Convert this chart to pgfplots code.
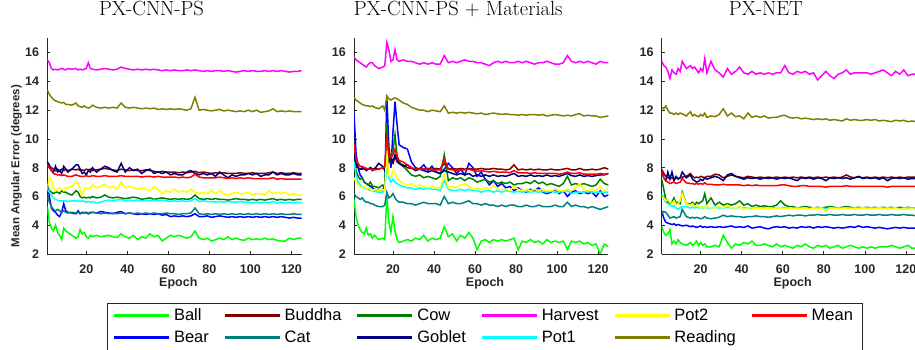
\documentclass[border=0pt]{standalone}
\usepackage{fontspec}
\setsansfont{Liberation Sans}
\usepackage{pgfplots}
\usepackage{pgfplotstable}
\pgfplotsset{compat=1.18}

\definecolor{gray15}{RGB}{38,38,38}
\definecolor{cBall}{RGB}{0,255,0}
\definecolor{cBear}{RGB}{0,0,255}
\definecolor{cBuddha}{RGB}{128,0,0}
\definecolor{cCat}{RGB}{0,128,128}
\definecolor{cCow}{RGB}{0,128,0}
\definecolor{cGoblet}{RGB}{0,0,128}
\definecolor{cHarvest}{RGB}{255,0,255}
\definecolor{cPotone}{RGB}{0,255,255}
\definecolor{cPottwo}{RGB}{255,255,0}
\definecolor{cReading}{RGB}{128,128,0}
\definecolor{cMean}{RGB}{255,0,0}

% mean angular error (degrees) per epoch, PX-CNN-PS
\pgfplotstableread{
ep  ball bear buddha cat cow goblet harvest pot1 pot2 reading mean
1   5.3 7.1 8.3 6.0 6.6 8.4 15.5 6.5 6.5 13.4 8.2
2   4.2 6.0 8.1 5.6 6.4 8.2 15.3 6.3 7.3 13.1 8.0
3   3.8 5.2 8.0 5.3 6.3 7.8 14.9 6.1 7.1 12.9 7.8
4   3.6 5.0 7.9 5.1 6.2 7.7 14.8 5.9 6.6 12.75 7.6
5   4.0 4.9 7.8 5.0 6.3 8.1 14.85 5.8 6.4 12.65 7.55
6   3.5 4.7 7.9 5.1 6.3 7.7 14.8 5.75 6.5 12.6 7.5
7   3.3 4.6 7.8 5.0 6.2 7.8 14.85 5.7 6.6 12.55 7.5
8   3.0 4.9 7.9 4.9 6.4 7.6 14.9 5.7 6.5 12.5 7.45
9   3.8 5.5 7.8 5.0 6.3 8.1 14.85 5.7 6.4 12.55 7.5
10  3.6 5.0 7.9 4.9 6.3 7.9 14.8 5.7 6.6 12.4 7.45
11  3.5 4.9 7.8 4.85 6.2 7.7 14.9 5.65 6.6 12.4 7.4
13  3.3 4.85 7.9 4.9 6.1 7.9 14.85 5.7 6.7 12.35 7.4
15  3.1 4.8 7.85 4.85 6.4 8.2 14.9 5.7 7.0 12.5 7.5
16  3.2 5.0 7.9 4.9 6.3 8.2 14.8 5.7 6.9 12.3 7.45
17  3.7 4.8 7.8 4.8 6.0 7.9 14.85 5.65 6.5 12.25 7.4
18  3.4 4.9 7.85 4.85 5.9 7.6 14.8 5.7 6.1 12.2 7.4
19  3.5 4.85 7.8 4.9 5.95 7.7 14.85 5.65 6.5 12.3 7.4
20  3.2 4.9 7.9 4.85 5.9 7.5 14.9 5.6 6.6 12.2 7.45
21  3.1 4.8 7.85 4.8 5.95 7.8 15.3 5.65 6.5 12.15 7.4
22  3.3 4.9 7.9 4.85 5.9 7.7 14.9 5.6 6.6 12.2 7.4
23  3.2 4.9 7.8 4.9 6.0 8.0 14.85 5.65 6.8 12.35 7.45
25  3.3 4.85 7.85 4.85 5.9 7.7 14.8 5.55 6.6 12.2 7.4
27  3.2 4.95 7.9 4.8 5.95 7.9 14.85 5.6 6.7 12.15 7.4
29  3.25 4.9 7.95 4.85 6.1 8.1 14.9 5.7 6.85 12.2 7.45
31  3.3 4.85 7.9 4.8 5.95 8.0 14.85 5.75 6.6 12.15 7.4
33  3.2 4.8 7.85 4.85 5.9 7.8 14.8 5.7 6.7 12.2 7.4
35  3.15 4.9 7.8 4.8 5.95 7.7 14.85 5.75 6.5 12.15 7.4
37  3.4 4.95 7.9 4.85 5.9 8.3 15.0 5.8 7.0 12.5 7.45
39  3.2 4.8 7.85 4.8 5.85 7.7 14.9 5.7 6.6 12.2 7.4
41  3.1 4.85 7.8 4.85 5.9 8.0 14.85 5.75 6.7 12.15 7.4
43  3.3 4.8 7.85 4.8 5.95 7.8 14.8 5.7 6.6 12.2 7.4
45  3.0 4.75 7.8 4.85 5.9 7.9 14.85 5.75 6.5 12.15 7.4
47  3.2 4.8 7.8 4.8 5.8 7.6 14.8 5.7 6.6 12.1 7.35
49  3.1 4.75 7.85 4.85 5.85 7.8 14.85 5.75 6.5 12.15 7.4
51  3.4 4.8 7.8 4.8 5.9 7.9 14.8 5.7 6.4 12.1 7.4
53  3.2 4.75 7.75 4.85 5.8 7.6 14.85 5.75 6.7 12.15 7.35
55  3.3 4.8 7.7 4.8 5.85 7.7 14.8 5.7 6.5 12.05 7.4
57  2.9 4.7 7.75 4.8 5.9 7.6 14.75 5.75 6.2 12.1 7.35
59  3.1 4.75 7.7 4.85 5.85 7.7 14.8 5.7 6.4 12.05 7.35
61  3.3 4.6 7.7 4.8 5.8 7.5 14.75 5.65 6.3 12.1 7.35
63  3.2 4.65 7.7 4.8 5.85 7.6 14.8 5.7 6.5 12.05 7.35
65  3.3 4.6 7.65 4.75 5.8 7.5 14.75 5.65 6.3 12.1 7.3
67  3.2 4.65 7.7 4.8 5.85 7.5 14.75 5.7 6.4 12.05 7.35
69  3.1 4.6 7.65 4.8 5.8 7.7 14.8 5.65 6.3 12.0 7.3
71  3.2 4.65 7.7 4.85 5.85 7.8 14.75 5.7 6.5 12.1 7.35
73  3.6 4.8 7.75 5.2 6.1 7.6 14.8 5.85 6.3 12.9 7.55
75  3.1 4.6 7.65 4.8 5.85 7.5 14.75 5.65 6.2 12.0 7.35
77  3.0 4.6 7.7 4.75 5.8 7.6 14.7 5.7 6.3 12.05 7.3
79  3.1 4.65 7.65 4.8 5.85 7.5 14.75 5.65 6.2 12.0 7.3
81  2.9 4.55 7.6 4.75 5.8 7.6 14.7 5.65 6.4 11.95 7.3
83  3.0 4.6 7.65 4.8 5.85 7.4 14.75 5.6 6.2 12.0 7.3
85  3.1 4.65 7.6 4.75 5.8 7.7 14.75 5.65 6.4 12.05 7.35
87  3.0 4.6 7.65 4.8 5.8 7.5 14.7 5.6 6.2 11.95 7.3
89  3.2 4.55 7.6 4.75 5.75 7.3 14.75 5.65 6.1 12.0 7.25
91  3.0 4.6 7.6 4.8 5.8 7.5 14.7 5.6 6.2 11.95 7.3
93  3.1 4.55 7.6 4.75 5.85 7.4 14.65 5.6 6.3 11.9 7.25
95  3.0 4.6 7.65 4.8 5.8 7.5 14.7 5.65 6.2 11.95 7.3
97  2.95 4.55 7.6 4.75 5.8 7.5 14.75 5.6 6.2 11.9 7.25
99  3.1 4.6 7.6 4.8 5.75 7.6 14.7 5.6 6.3 12.0 7.3
101 3.0 4.55 7.65 4.75 5.8 7.5 14.75 5.55 6.1 11.9 7.25
103 3.05 4.6 7.6 4.8 5.75 7.6 14.7 5.6 6.2 12.0 7.25
105 3.0 4.55 7.6 4.75 5.8 7.4 14.7 5.55 6.2 11.85 7.25
107 3.1 4.6 7.6 4.8 5.75 7.5 14.75 5.6 6.1 11.9 7.25
109 3.0 4.55 7.65 4.75 5.8 7.5 14.7 5.55 6.4 11.95 7.25
111 3.05 4.6 7.7 4.8 5.85 7.7 14.75 5.65 6.2 12.1 7.3
113 2.95 4.55 7.6 4.75 5.75 7.5 14.7 5.55 6.3 11.9 7.2
115 2.9 4.6 7.65 4.8 5.8 7.6 14.75 5.6 6.2 11.95 7.25
117 2.9 4.55 7.6 4.75 5.75 7.5 14.7 5.55 6.3 11.9 7.2
119 3.1 4.5 7.6 4.75 5.8 7.5 14.65 5.6 6.1 11.95 7.2
121 3.0 4.55 7.65 4.8 5.75 7.6 14.7 5.55 6.2 11.9 7.2
123 3.1 4.5 7.6 4.75 5.8 7.5 14.7 5.6 6.1 11.9 7.2
125 3.1 4.5 7.6 4.75 5.8 7.5 14.75 5.55 6.1 11.9 7.2
}\tblA

% PX-CNN-PS + Materials
\pgfplotstableread{
ep  ball bear buddha cat cow goblet harvest pot1 pot2 reading mean
1   5.8 11.8 8.6 6.2 8.5 8.9 15.7 8.4 7.3 12.9 9.6
2   4.6 9.0 8.2 6.0 7.8 8.3 15.5 7.5 7.0 12.7 8.6
3   4.0 8.0 8.0 5.9 7.4 8.0 15.4 7.0 6.8 12.6 8.3
4   3.7 7.5 7.9 5.8 7.2 7.9 15.3 6.8 6.7 12.5 8.1
5   3.5 7.3 8.0 5.9 7.3 7.9 15.2 6.7 6.6 12.4 8.1
6   3.4 7.0 7.9 5.7 7.0 8.0 15.1 6.6 6.7 12.35 8.0
7   3.8 6.9 7.95 5.6 6.9 7.8 15.0 6.5 6.5 12.3 7.95
8   3.3 6.8 7.9 5.6 6.8 7.9 15.2 6.5 6.6 12.3 7.9
9   3.4 6.7 8.0 5.5 7.0 8.0 15.3 6.4 6.5 12.25 7.9
10  3.1 6.6 7.9 5.5 6.7 7.8 15.3 6.4 6.4 12.3 7.85
11  3.3 6.5 7.95 5.4 6.7 7.9 15.1 6.35 6.5 12.2 7.85
13  3.0 6.4 7.9 5.3 6.6 8.3 14.9 6.3 6.4 12.1 7.9
15  3.1 6.5 8.0 5.3 6.8 8.1 15.0 6.3 6.5 12.3 8.0
16  3.0 6.7 8.0 5.4 6.6 7.8 15.1 6.5 6.4 12.0 8.1
17  6.1 12.9 9.0 6.3 11.1 8.1 16.7 8.2 9.2 13.0 10.3
18  4.2 9.5 8.4 5.9 8.4 8.5 16.2 7.3 7.5 12.8 8.8
19  3.5 8.0 8.5 6.0 8.9 8.7 15.4 7.0 7.3 12.7 8.7
20  4.6 10.5 8.3 6.2 9.2 8.4 15.5 7.2 7.8 12.8 8.9
21  3.6 12.6 8.8 5.9 10.3 8.9 16.2 7.0 7.6 12.85 9.3
22  3.0 11.0 8.4 5.7 8.8 8.5 15.5 6.9 7.3 12.8 8.8
23  2.8 9.6 8.3 5.6 8.4 8.3 15.4 6.8 7.1 12.7 8.5
25  2.9 9.4 8.2 5.6 8.1 8.1 15.5 6.7 6.9 12.5 8.4
27  3.0 9.3 8.0 5.5 7.8 8.2 15.4 6.6 6.8 12.4 8.2
29  2.9 8.4 7.95 5.5 7.5 8.0 15.4 6.6 6.9 12.2 8.0
31  3.1 8.0 7.9 5.4 7.4 7.8 15.3 6.5 6.7 12.1 7.9
33  3.0 7.9 7.95 5.5 7.5 7.9 15.2 6.6 6.8 12.0 7.9
35  3.3 8.2 7.9 5.6 7.3 7.8 15.3 6.5 6.7 12.0 7.9
37  2.9 7.8 7.95 5.5 7.4 7.7 15.2 6.6 6.6 11.9 7.9
39  3.1 8.1 7.9 5.5 7.3 7.8 15.3 6.5 6.7 12.0 7.85
41  3.0 7.7 7.95 5.5 7.2 7.7 15.2 6.5 6.6 11.95 7.85
43  3.1 7.6 7.9 5.4 7.4 7.6 15.2 6.4 6.6 11.9 7.85
45  3.9 7.9 8.3 6.0 8.9 7.8 15.8 7.1 7.5 12.3 8.6
47  3.2 8.3 7.9 5.5 7.1 7.7 15.3 6.5 6.6 11.8 7.9
49  3.4 8.0 7.95 5.6 7.3 7.6 15.4 6.4 6.7 11.85 7.85
51  2.9 7.6 7.9 5.5 7.2 7.5 15.3 6.4 6.6 11.8 7.8
53  3.3 7.9 7.95 5.5 7.3 7.6 15.4 6.5 6.8 11.85 7.85
55  3.1 7.5 7.9 5.6 7.1 7.5 15.5 6.4 6.9 11.8 7.85
57  3.5 8.3 7.95 5.7 7.3 7.6 15.4 6.5 6.7 11.85 7.9
59  3.1 8.0 7.9 5.5 7.2 7.4 15.4 6.4 6.5 11.8 7.8
61  2.3 7.4 7.9 5.5 7.0 7.5 15.3 6.4 6.6 11.75 7.75
63  2.9 7.7 7.95 5.4 7.1 7.4 15.3 6.3 6.5 11.8 7.8
65  3.0 7.2 7.9 5.5 7.2 7.5 15.2 6.4 6.6 11.7 7.75
67  2.8 6.8 7.9 5.4 7.0 7.4 15.1 6.4 6.5 11.75 7.7
69  3.0 7.1 7.95 5.4 7.1 7.5 15.3 6.3 6.8 11.8 7.75
71  2.9 6.7 7.9 5.3 6.9 7.4 15.4 6.4 6.5 11.75 7.7
73  3.0 6.9 7.9 5.4 7.0 7.45 15.3 6.3 6.5 11.7 7.7
75  2.9 6.6 7.85 5.3 6.9 7.4 15.4 6.4 6.5 11.75 7.7
77  3.0 6.7 7.9 5.4 7.0 7.5 15.3 6.35 6.4 11.7 7.65
79  3.1 6.4 8.2 5.4 6.8 7.6 15.3 6.3 6.7 11.7 7.8
81  2.3 6.6 7.85 5.3 6.9 7.4 15.4 6.35 6.5 11.65 7.65
83  2.9 6.4 7.9 5.3 6.9 7.45 15.3 6.3 6.4 11.7 7.65
85  2.8 6.3 7.85 5.4 7.0 7.4 15.4 6.35 6.5 11.65 7.65
87  3.0 6.5 7.9 5.3 6.9 7.5 15.3 6.3 6.4 11.7 7.6
89  2.8 6.4 7.85 5.3 7.1 7.4 15.2 6.35 6.5 11.7 7.65
91  2.9 6.6 7.9 5.4 6.9 7.45 15.3 6.3 6.4 11.65 7.6
93  2.7 6.3 7.85 5.3 7.0 7.4 15.3 6.35 6.5 11.7 7.6
95  3.0 6.2 7.85 5.3 6.8 7.5 15.4 6.3 6.4 11.6 7.6
97  2.8 6.3 7.9 5.3 6.9 7.4 15.3 6.35 6.4 11.65 7.6
99  2.9 6.5 7.85 5.4 6.8 7.45 15.2 6.3 6.5 11.7 7.6
101 2.8 6.2 7.85 5.3 6.7 7.4 15.2 6.3 6.4 11.65 7.55
103 2.9 6.4 7.9 5.3 6.9 7.5 15.3 6.35 6.4 11.6 7.6
105 2.3 6.0 7.95 5.6 7.4 7.6 15.8 6.4 6.5 11.65 7.7
107 2.9 6.3 7.85 5.3 6.8 7.45 15.4 6.2 6.4 11.6 7.6
109 2.8 6.4 7.85 5.4 6.9 7.4 15.3 6.3 6.6 11.7 7.6
111 2.9 6.2 7.95 5.3 6.8 7.5 15.4 6.3 6.9 11.75 7.65
113 2.7 6.3 7.85 5.3 6.9 7.4 15.3 6.3 6.5 11.6 7.55
115 2.8 6.2 7.85 5.2 6.8 7.45 15.4 6.35 6.4 11.65 7.55
117 2.6 6.3 7.9 5.3 6.7 7.4 15.3 6.3 6.5 11.6 7.55
119 2.7 6.0 7.85 5.2 6.8 7.45 15.2 6.3 6.4 11.6 7.55
121 2.0 6.4 7.9 5.1 7.2 7.5 15.4 6.3 6.7 11.5 7.6
123 2.7 6.0 8.0 5.2 6.9 7.5 15.3 6.3 6.4 11.55 7.55
125 2.5 6.1 7.9 5.3 6.8 7.6 15.3 6.3 6.6 11.6 7.6
}\tblB

% PX-NET
\pgfplotstableread{
ep  ball bear buddha cat cow goblet harvest pot1 pot2 reading mean
1   3.9 5.0 7.9 4.8 7.2 7.8 15.4 6.2 6.0 12.2 7.8
2   3.5 4.5 7.6 4.95 6.5 7.3 15.1 5.8 5.9 12.1 7.3
3   3.3 4.2 7.4 4.9 5.8 7.1 15.0 5.6 5.7 12.3 7.1
4   3.4 4.15 7.3 4.7 5.6 7.7 14.7 5.5 5.8 12.0 7.0
5   3.7 4.1 7.25 4.5 5.5 7.2 14.2 5.4 5.6 11.8 6.9
6   2.7 4.05 7.3 4.55 5.6 7.7 14.8 5.3 5.5 11.8 6.95
7   2.9 4.1 7.2 4.6 5.9 7.1 14.6 5.35 5.7 11.7 7.0
8   2.7 4.0 7.3 4.5 5.5 7.4 14.5 5.2 5.4 11.8 6.9
9   3.0 4.05 7.25 4.55 5.6 7.2 14.9 5.1 5.5 11.7 6.95
10  2.8 4.0 7.3 4.6 5.5 7.3 14.7 5.2 5.7 11.8 7.0
11  2.7 3.95 7.35 5.1 6.3 7.7 15.4 5.3 6.2 11.75 7.25
13  2.6 4.0 7.4 4.6 5.5 7.3 14.9 5.3 5.5 11.6 6.95
15  2.8 3.9 7.6 4.5 5.5 7.5 15.1 5.2 5.4 11.9 6.9
16  2.6 3.95 7.4 4.55 5.6 7.2 14.9 5.25 5.5 11.6 6.9
17  2.7 3.9 7.3 4.5 5.4 7.1 15.0 5.2 5.3 11.7 6.85
18  2.9 3.85 7.35 4.55 5.6 7.0 14.8 5.25 5.4 11.6 6.9
19  2.6 3.9 7.3 4.5 5.5 7.05 14.6 5.2 5.3 11.55 6.85
20  2.8 3.95 7.4 4.45 5.6 7.2 14.9 5.25 5.2 11.7 6.9
21  2.6 3.85 7.35 4.5 5.7 7.1 14.7 5.2 5.3 11.6 6.85
22  2.7 3.9 7.3 4.6 6.2 7.3 15.6 5.25 5.2 11.8 6.95
23  2.5 3.85 7.4 4.5 5.5 7.2 14.6 5.2 5.3 11.5 6.85
25  2.5 3.9 7.4 4.45 5.9 7.3 15.4 5.2 5.2 11.6 6.85
27  2.6 3.85 7.55 4.5 5.4 7.4 14.8 5.25 5.2 11.55 6.8
29  2.5 3.9 7.5 4.55 5.6 7.3 14.6 5.2 5.3 11.7 6.8
31  3.3 3.85 7.3 4.7 5.4 7.1 14.3 5.2 5.2 12.1 6.85
33  2.8 3.9 7.4 4.6 5.5 7.5 14.9 5.25 5.4 11.6 6.8
35  2.4 3.95 7.5 4.65 5.4 7.6 14.5 5.2 5.2 11.8 6.8
37  2.7 3.85 7.4 4.6 5.5 7.4 14.7 5.2 5.2 11.55 6.8
39  2.6 3.9 7.35 4.6 5.7 7.3 15.0 5.25 5.3 11.6 6.8
41  2.8 3.85 7.3 4.55 5.4 7.2 14.6 5.2 5.1 11.4 6.75
43  2.7 3.95 7.4 4.6 5.5 7.3 14.5 5.2 5.2 11.8 6.8
45  2.9 3.8 7.35 4.6 5.3 7.25 14.7 5.15 5.2 11.5 6.75
47  2.6 3.85 7.3 4.65 5.4 7.3 14.5 5.2 5.15 11.6 6.8
49  2.6 3.9 7.35 4.6 5.3 7.2 14.6 5.2 5.2 11.5 6.75
51  2.7 3.8 7.3 4.6 5.35 7.3 14.5 5.2 5.15 11.6 6.75
53  2.6 3.75 7.35 4.55 5.3 7.25 14.6 5.15 5.2 11.45 6.75
55  2.5 3.85 7.3 4.6 5.3 7.3 14.5 5.2 5.15 11.5 6.75
57  2.7 3.9 7.35 4.65 5.4 7.2 14.6 5.2 5.2 11.5 6.75
59  2.5 3.85 7.3 4.6 5.7 7.3 14.6 5.25 5.2 11.6 6.8
61  2.6 3.9 7.35 4.65 5.4 7.25 15.1 5.2 5.15 11.65 6.8
63  2.5 3.8 7.3 4.7 5.3 7.3 14.6 5.2 5.2 11.5 6.75
65  2.4 3.85 7.35 4.65 5.3 7.2 14.5 5.2 5.15 11.45 6.7
67  2.6 3.8 7.3 4.7 5.2 7.1 14.7 5.15 5.2 11.5 6.7
69  2.5 3.9 7.35 4.7 5.25 7.3 14.6 5.2 5.15 11.4 6.75
71  2.7 3.85 7.3 4.65 5.3 7.25 14.7 5.2 5.2 11.45 6.75
73  2.5 3.9 7.35 4.7 5.25 7.3 14.5 5.15 5.15 11.4 6.7
75  2.4 3.8 7.3 4.7 5.2 7.2 14.6 5.2 5.2 11.35 6.7
77  2.6 3.9 7.35 4.75 5.25 7.3 14.1 5.2 5.15 11.4 6.7
79  2.5 3.85 7.3 4.7 5.2 7.25 14.4 5.2 5.2 11.35 6.7
81  2.6 3.9 7.35 4.7 5.25 7.1 14.7 5.15 5.0 11.4 6.65
83  2.4 3.85 7.3 4.75 5.3 7.3 14.4 5.2 5.2 11.3 6.7
85  2.5 3.8 7.35 4.7 5.25 7.25 14.2 5.2 5.15 11.35 6.7
87  2.6 3.85 7.3 4.7 5.2 7.3 14.5 5.15 5.2 11.3 6.7
89  2.4 3.8 7.35 4.75 5.25 7.25 14.6 5.2 5.15 11.25 6.7
91  2.5 3.85 7.5 4.7 5.3 7.3 14.8 5.2 5.2 11.4 6.75
93  2.6 3.9 7.35 4.7 5.25 7.2 14.5 5.2 5.15 11.3 6.7
95  2.5 3.85 7.3 4.75 5.2 7.3 14.6 5.15 5.2 11.35 6.7
97  2.4 3.95 7.35 4.7 5.25 7.4 14.6 5.2 5.15 11.3 6.7
99  2.5 3.85 7.3 4.7 5.2 7.25 14.6 5.2 5.2 11.3 6.7
101 2.4 3.9 7.35 4.75 5.25 7.3 14.6 5.2 5.15 11.35 6.7
103 2.5 3.85 7.3 4.7 5.2 7.25 14.5 5.15 5.2 11.3 6.7
105 2.4 3.8 7.35 4.7 5.25 7.3 14.6 5.2 5.15 11.35 6.7
107 2.5 3.85 7.3 4.75 5.2 7.2 14.7 5.2 5.2 11.25 6.7
109 2.5 3.8 7.35 4.7 5.25 7.3 14.8 5.2 5.15 11.3 6.7
111 2.5 3.75 7.3 4.7 5.2 7.1 14.6 5.15 5.2 11.25 6.65
113 2.6 3.8 7.35 4.75 5.25 7.25 14.4 5.2 5.15 11.2 6.7
115 2.5 3.85 7.3 4.7 5.2 7.3 14.7 5.2 5.2 11.3 6.7
117 2.4 3.8 7.35 4.7 5.25 7.25 14.5 5.15 5.1 11.25 6.7
119 2.5 3.85 7.3 4.75 5.2 7.3 14.8 5.2 5.15 11.3 6.7
121 2.6 3.8 7.35 4.7 5.25 7.2 14.4 5.2 5.1 11.2 6.7
123 2.4 3.8 7.35 4.7 5.2 7.25 14.5 5.2 5.15 11.25 6.7
125 2.4 3.8 7.35 4.65 5.2 7.25 14.5 5.2 5.1 11.2 6.7
}\tblC

% draw the eleven curves of one table, in plotting order
\newcommand{\allseries}[1]{%
  \addplot[cBall, forget plot]     table[x=ep, y=ball]    {#1};
  \addplot[cBear, forget plot]     table[x=ep, y=bear]    {#1};
  \addplot[cBuddha, forget plot]   table[x=ep, y=buddha]  {#1};
  \addplot[cCat, forget plot]      table[x=ep, y=cat]     {#1};
  \addplot[cCow, forget plot]      table[x=ep, y=cow]     {#1};
  \addplot[cGoblet, forget plot]   table[x=ep, y=goblet]  {#1};
  \addplot[cHarvest, forget plot]  table[x=ep, y=harvest] {#1};
  \addplot[cPotone, forget plot]   table[x=ep, y=pot1]    {#1};
  \addplot[cPottwo, forget plot]   table[x=ep, y=pot2]    {#1};
  \addplot[cReading, forget plot]  table[x=ep, y=reading] {#1};
  \addplot[cMean, forget plot]     table[x=ep, y=mean]    {#1};
}

\pgfplotsset{
  panel/.style={
    scale only axis, width=254.4pt, height=215.7pt,
    xmin=1, xmax=125, ymin=2, ymax=17,
    xtick={20,40,...,120}, ytick={2,4,...,16},
    axis x line=bottom, axis y line=left,
    axis line style={-, draw=gray15, line width=0.8pt},
    tick align=inside, major tick length=3pt,
    tick style={draw=gray15, line width=0.6pt},
    /pgf/number format/assume math mode=true,
    tick label style={font=\sffamily\bfseries\fontsize{12.5}{14}\selectfont, text=gray15},
    xticklabel style={anchor=base, inner sep=0pt, yshift=-19.3pt},
    yticklabel style={anchor=east, inner sep=0pt, xshift=-8pt},
    title style={font=\rmfamily\fontsize{20.5}{24}\selectfont, anchor=base,
      at={(axis description cs:0.5,1)}, xshift=-23pt, yshift=17pt},
    xlabel={Epoch},
    xlabel style={font=\sffamily\bfseries\fontsize{12.5}{14}\selectfont, text=gray15,
      at={(axis description cs:0.515,-0.1516)}, anchor=base},
    every axis plot/.append style={line width=1.5pt, mark=none},
    clip=true,
  },
}

\begin{document}
\begin{tikzpicture}
\useasboundingbox (0pt,0pt) rectangle (915pt,350pt);

\begin{axis}[panel, at={(47.3pt,96pt)}, anchor=south west,
  title={PX-CNN-PS},
  ylabel={Mean Angular Error (degrees)},
  ylabel style={font=\sffamily\bfseries\fontsize{11.5}{13}\selectfont, text=gray15,
    at={(axis description cs:-0.110,0.407)}, anchor=base, rotate=0}]
  \allseries{\tblA}
\end{axis}

\begin{axis}[panel, at={(354pt,96pt)}, anchor=south west,
  title={PX-CNN-PS + Materials},
  legend columns=6,
  legend cell align=left,
  legend image code/.code={\draw[#1, line width=3pt] (0pt,0pt) -- (55pt,0pt);},
  legend style={at={(axis description cs:0.513,-0.2272)}, anchor=north,
    draw=gray15, line width=0.6pt, fill=white,
    font=\sffamily\fontsize{16.5}{19}\selectfont,
    inner xsep=5.5pt, inner ysep=3.75pt, row sep=4.5pt,
    nodes={inner xsep=3.4pt, inner ysep=1pt, text height=12pt, text depth=3.5pt},
    /tikz/every even column/.append style={column sep=11pt}}]
  \addlegendimage{cBall}    \addlegendentry{Ball}
  \addlegendimage{cBuddha}  \addlegendentry{Buddha}
  \addlegendimage{cCow}     \addlegendentry{Cow}
  \addlegendimage{cHarvest} \addlegendentry{Harvest}
  \addlegendimage{cPottwo}  \addlegendentry{Pot2}
  \addlegendimage{cMean}    \addlegendentry{Mean}
  \addlegendimage{cBear}    \addlegendentry{Bear}
  \addlegendimage{cCat}     \addlegendentry{Cat}
  \addlegendimage{cGoblet}  \addlegendentry{Goblet}
  \addlegendimage{cPotone}  \addlegendentry{Pot1}
  \addlegendimage{cReading} \addlegendentry{Reading}
  \allseries{\tblB}
\end{axis}

\begin{axis}[panel, at={(661.7pt,96pt)}, anchor=south west,
  title={PX-NET}]
  \allseries{\tblC}
\end{axis}
\end{tikzpicture}
\end{document}
